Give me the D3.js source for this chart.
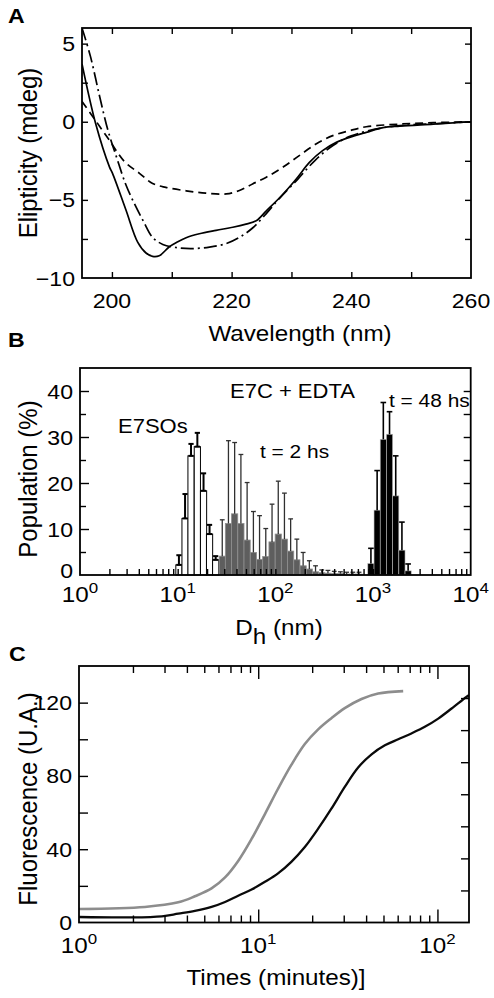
<!DOCTYPE html>
<html><head><meta charset="utf-8">
<script src="https://cdn.jsdelivr.net/npm/d3@7/dist/d3.min.js"></script>
<style>html,body{margin:0;padding:0;background:#fff}svg{display:block;font-family:"Liberation Sans",Arial,sans-serif}</style>
</head><body><svg id="c" width="494" height="998"></svg>
<script>
// ---------- Panel A data (CD spectra) ----------
const solidNm   = [195,197.3,199.6,200.1,202.3,204.3,205.7,206.8,207.9,209.6,210.9,212.4,214.6,217.4,220.2,222.4,224.1,225.8,228.3,230.8,233,235.2,237.5,239.7,242.5,245.3,248.1,253.7,260];
const solidMdeg = [3.7,-0.15,-2.9,-3.3,-5.6,-7.7,-8.4,-8.62,-8.58,-8.0,-7.7,-7.42,-7.17,-6.95,-6.75,-6.55,-6.34,-5.7,-4.75,-3.66,-2.6,-1.85,-1.32,-1.0,-0.68,-0.38,-0.28,-0.15,0];
const dashNm    = [195,197.3,199.6,202.1,204.6,206.8,209,212.4,215.7,219.1,221.3,223.5,225.8,228.6,231.3,234.1,236.9,239.7,242.5,248.1,253.7,260];
const dashMdeg  = [1.3,0.06,-1.2,-2.55,-3.3,-3.95,-4.2,-4.42,-4.57,-4.62,-4.4,-3.98,-3.55,-2.9,-2.17,-1.43,-0.89,-0.57,-0.32,-0.15,-0.06,0];
const ddotNm    = [195,196.4,197.9,199.3,200.8,202.3,203.7,205.3,206.8,208.5,210.7,213.2,216.3,219.1,221.3,223.5,225.5,228,231,234,237,240,245,250,255,260];
const ddotMdeg  = [6.0,4.2,1.7,-0.5,-2.3,-4.0,-5.2,-6.4,-7.4,-7.85,-8.05,-8.12,-8.02,-7.8,-7.4,-6.8,-6.0,-4.9,-3.7,-2.45,-1.5,-0.9,-0.4,-0.2,-0.1,0];
const aXTicks = [200,220,240,260];
const aYTicks = [5,0,-5,-10];

// ---------- Panel B data (DLS size distributions) ----------
const sosD   = [10.3,11.9,13.7,15.9,18.4,21.2,24.5];
const sosPop = [2.2,12.3,25.9,27.9,18.3,8.9,3.3];
const sosErr = [2.1,5.3,2.6,3.0,3.8,2.0,0.8];
const t2D    = [28.6,33.1,38.3,44.4,51.4,59.6,68.9,79.8,92.5,107.1,123.9,143.4,166.0,192.5,222.8,257.9,298.5,345.5,400.8,463.8,536.9,621.4,719.1];
const t2Pop  = [4.1,11.2,13.3,11.2,7.6,4.9,3.4,4.0,7.2,8.9,7.8,5.2,3.3,2.0,1.3,0.7,0.5,0.4,0.3,0.3,0.2,0.2,0.2];
const t2Err  = [7.9,18.0,15.5,15.0,12.5,8.9,9.5,6.1,8.2,11.5,10.0,7.0,4.5,2.9,1.8,1.3,0.6,0.6,0.5,0.4,0.4,0.4,0.4];
const t48D   = [951.7,1101.6,1274.9,1475.6,1707.7,1976.5,2287.6];
const t48Pop = [2.5,14.1,29.5,30.6,17.2,5.4,0.9];
const t48Err = [3.3,8.6,8.0,4.9,8.7,6.1,1.5];
const bYTicks = [0,10,20,30,40];
const bXTickExp = [0,1,2,3,4];

// ---------- Panel C data (fluorescence kinetics) ----------
const grayT  = [1,2.33,3.58,4.43,5.49,6.53,7.73,9.18,10.9,12.9,15.3,18.2,21.6,25.6,30.4,37.7,46.7,64.4];
const grayF  = [7.4,8.5,11.0,14.3,18.6,24.6,33.6,45.6,59.2,73,86,97.4,105.4,111.5,117,122,125,126.3];
const blackT = [1,1.9,2.9,3.58,4.43,5.49,6.53,7.73,9.18,10.9,12.9,15.3,18.2,21.6,25.6,30.4,36.1,42.9,50.9,60.4,71.6,85,101,120,145,150];
const blackF = [3.0,2.8,3.4,4.8,6.3,8.5,11.2,14.6,18,22.2,26.8,33.1,41.2,51.2,62.1,74,84.6,91.8,96.7,100,103.2,106.8,111.3,116.8,123.1,124];
const cYTicks = [0,40,80,120];
const cXTickExp = [0,1,2];

const SX = 1.1;
const svg = d3.select('#c');
svg.append('rect').attr('width',494).attr('height',998).attr('fill','#fff');

function label(parent, x, y, str, o={}) {
  const g = parent.append('g').attr('transform', `translate(${x},${y}) scale(${SX},1)` + (o.rotate ? ` rotate(${o.rotate})` : ''));
  const t = g.append('text').attr('text-anchor', o.anchor || 'middle').attr('font-size', o.size || 21)
    .attr('font-weight', o.weight || 'normal').attr('fill', '#000');
  if (o.dy) t.attr('dy', o.dy);
  if (str !== null) t.text(str);
  return t;
}
function pow10Label(parent, x, y, e, size) {
  const t = label(parent, x, y, null, {size: size});
  t.append('tspan').text('10');
  t.append('tspan').attr('font-size', size*0.7).attr('dy', -size*0.42).text(e);
  return t;
}
function ticks(g, axisFn, scale, vals, size, transform) {
  g.append('g').attr('transform', transform)
    .call(axisFn(scale).tickValues(vals).tickSize(size).tickFormat(''))
    .call(s => s.select('.domain').remove())
    .selectAll('line').attr('stroke', '#000').attr('stroke-width', 1.4);
}
const fmtMinus = v => (v < 0 ? '\u2212' + Math.abs(v) : '' + v);

// ================= Panel A =================
const xA = d3.scaleLinear([195,260],[82,471]);
const yA = d3.scaleLinear([-10,6],[278,28]);
const gA = svg.append('g');
gA.append('clipPath').attr('id','clipA').append('rect').attr('x',82).attr('y',28).attr('width',389).attr('height',250);
const lineA = d3.line().x(d=>xA(d[0])).y(d=>yA(d[1])).curve(d3.curveCatmullRom.alpha(0.5));
const curvesA = [
  {nm: dashNm, v: dashMdeg, dash: '8,5'},
  {nm: ddotNm, v: ddotMdeg, dash: '13,4,2,4'},
  {nm: solidNm, v: solidMdeg, dash: null}
];
curvesA.forEach(c => {
  gA.append('path').attr('clip-path','url(#clipA)')
    .attr('d', lineA(c.nm.map((n,i)=>[n,c.v[i]])))
    .attr('fill','none').attr('stroke','#000').attr('stroke-width',1.7)
    .attr('stroke-dasharray', c.dash);
});
const aMinor = d3.range(-10, 6.01, 2.5).filter(v => v > -10 && v < 6);
const aXMinor = d3.range(200, 260, 10);
ticks(gA, d3.axisLeft, yA, aMinor, -6, 'translate(82,0)');
ticks(gA, d3.axisRight, yA, aMinor, -6, 'translate(471,0)');
ticks(gA, d3.axisTop, xA, aXMinor, -6, 'translate(0,28)');
ticks(gA, d3.axisBottom, xA, aXMinor, -6, 'translate(0,278)');
gA.append('rect').attr('x',82).attr('y',28).attr('width',389).attr('height',250)
  .attr('fill','none').attr('stroke','#000').attr('stroke-width',1.8);
aYTicks.forEach(v => label(gA, 75, yA(v), fmtMinus(v), {anchor:'end', dy:'0.36em', size:21}));
aXTicks.forEach(v => label(gA, xA(v), 308, '' + v, {size:21}));
label(gA, 300, 341, 'Wavelength (nm)', {size:22});
label(gA, 37, 153, 'Elipticity (mdeg)', {size:24, rotate:-90});
label(gA, 8, 23, 'A', {anchor:'start', size:21, weight:'bold'});

// ================= Panel B =================
const xB = d3.scaleLog([1,1e4],[80,470.7]);
const yB = d3.scaleLinear([0,45],[575,368]);
const gB = svg.append('g');
const r = Math.pow(10, 0.0635/2);
function bars(D, P, E, style) {
  const g = gB.append('g');
  D.forEach((d,i) => {
    const x0 = xB(d/r), x1 = xB(d*r);
    g.append('rect').attr('x',x0).attr('y',yB(P[i])).attr('width',x1-x0).attr('height',yB(0)-yB(P[i]))
      .attr('fill',style.fill).attr('stroke',style.stroke).attr('stroke-width',style.sw);
  });
  D.forEach((d,i) => {
    const xc = xB(d), yt = yB(P[i]+E[i]), yb = yB(P[i]);
    g.append('line').attr('x1',xc).attr('x2',xc).attr('y1',yb).attr('y2',yt)
      .attr('stroke',style.err).attr('stroke-width',style.ew);
    g.append('line').attr('x1',xc-style.cap).attr('x2',xc+style.cap).attr('y1',yt).attr('y2',yt)
      .attr('stroke',style.err).attr('stroke-width',style.ew);
    if (style.bottomCap) g.append('line').attr('x1',xc-style.cap).attr('x2',xc+style.cap).attr('y1',yb).attr('y2',yb)
      .attr('stroke',style.err).attr('stroke-width',style.ew);
  });
}
bars(sosD, sosPop, sosErr, {fill:'#fff', stroke:'#000', sw:1, err:'#000', ew:2, cap:2.6, bottomCap:true});
bars(t2D, t2Pop, t2Err, {fill:'#5e5e5e', stroke:'#8e8e8e', sw:0.8, err:'#303030', ew:1.3, cap:2.4, bottomCap:false});
bars(t48D, t48Pop, t48Err, {fill:'#000', stroke:'#bbb', sw:0.6, err:'#000', ew:1.6, cap:2.8, bottomCap:false});
const bMinorY = d3.range(5, 45, 5);
ticks(gB, d3.axisLeft, yB, bMinorY.filter(v=>v%10!==0), -6, 'translate(80,0)');
ticks(gB, d3.axisLeft, yB, bMinorY.filter(v=>v%10===0), -9, 'translate(80,0)');
ticks(gB, d3.axisRight, yB, bMinorY, -7, 'translate(470.7,0)');
const bLog = xB.ticks().filter(v => v > 1 && v < 1e4);
ticks(gB, d3.axisBottom, xB, bLog, -6, 'translate(0,575)');
gB.append('rect').attr('x',80).attr('y',368).attr('width',390.7).attr('height',207)
  .attr('fill','none').attr('stroke','#000').attr('stroke-width',1.8);
bYTicks.forEach(v => label(gB, 73, yB(v) - (v === 0 ? 5 : 0), '' + v, {anchor:'end', dy:'0.36em', size:21}));
bXTickExp.forEach(e => pow10Label(gB, xB(Math.pow(10,e)), 602, e, 22));
{
  const t = label(gB, 279, 635, null, {size:22});
  t.append('tspan').text('D');
  t.append('tspan').attr('dy', 9).text('h');
  t.append('tspan').attr('dy', -9).text(' (nm)');
}
label(gB, 37, 479, 'Population (%)', {size:24, rotate:-90});
label(gB, 8, 347, 'B', {anchor:'start', size:21, weight:'bold'});
label(gB, 118, 433, 'E7SOs', {anchor:'start', size:20});
label(gB, 230, 398, 'E7C + EDTA', {anchor:'start', size:20});
label(gB, 260, 458, 't = 2 hs', {anchor:'start', size:19});
label(gB, 389, 407, 't = 48 hs', {anchor:'start', size:19});

// ================= Panel C =================
const xC = d3.scaleLog([1,150],[79,469]);
const yC = d3.scaleLinear([0,140],[922.5,666]);
const yCr = d3.scaleLinear([0,160],[922.5,666]);
const gC = svg.append('g');
gC.append('clipPath').attr('id','clipC').append('rect').attr('x',79).attr('y',666).attr('width',390).attr('height',256.5);
const lineC = d3.line().x(d=>xC(d[0])).y(d=>yC(d[1])).curve(d3.curveCatmullRom.alpha(0.5));
gC.append('path').attr('clip-path','url(#clipC)').attr('d', lineC(grayT.map((t,i)=>[t,grayF[i]])))
  .attr('fill','none').attr('stroke','#8d8d8d').attr('stroke-width',2.6);
gC.append('path').attr('clip-path','url(#clipC)').attr('d', lineC(blackT.map((t,i)=>[t,blackF[i]])))
  .attr('fill','none').attr('stroke','#0a0a0a').attr('stroke-width',2.3);
const cLog = xC.ticks().filter(v => v > 1 && v < 150);
const cMajor = cLog.filter(v => Math.abs(Math.log10(v) - Math.round(Math.log10(v))) < 1e-9);
const cMinor = cLog.filter(v => !cMajor.includes(v));
ticks(gC, d3.axisTop, xC, cMinor, -7, 'translate(0,666)');
ticks(gC, d3.axisTop, xC, cMajor, -13, 'translate(0,666)');
ticks(gC, d3.axisBottom, xC, cMinor, -7, 'translate(0,922.5)');
ticks(gC, d3.axisBottom, xC, cMajor, -13, 'translate(0,922.5)');
ticks(gC, d3.axisLeft, yC, d3.range(20,140,20), -9, 'translate(79,0)');
ticks(gC, d3.axisRight, yCr, d3.range(20,160,20), -8, 'translate(469,0)');
gC.append('rect').attr('x',79).attr('y',666).attr('width',390).attr('height',256.5)
  .attr('fill','none').attr('stroke','#000').attr('stroke-width',1.8);
cYTicks.forEach(v => label(gC, 72, yC(v), '' + v, {anchor:'end', dy:'0.36em', size:21}));
cXTickExp.forEach(e => pow10Label(gC, xC(Math.pow(10,e)), 953, e, 22));
label(gC, 276, 985, 'Times (minutes)]', {size:22});
label(gC, 37, 799, 'Fluorescence (U.A.)', {size:24, rotate:-90});
label(gC, 9, 661, 'C', {anchor:'start', size:21, weight:'bold'});
</script></body></html>
